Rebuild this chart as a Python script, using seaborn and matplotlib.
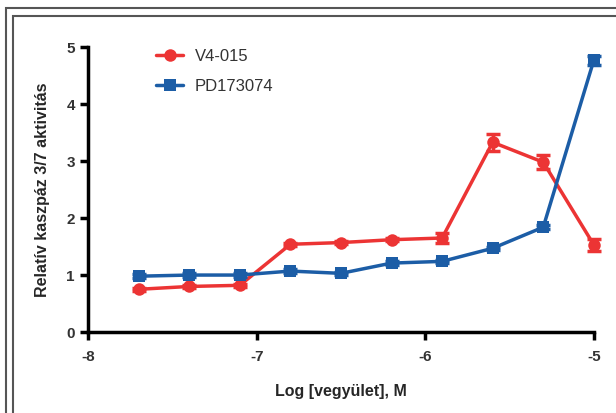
import numpy as np
import pandas as pd
import seaborn as sns
import matplotlib.pyplot as plt
from matplotlib.patches import Rectangle

log_conc = [-7.7, -7.4, -7.1, -6.8, -6.5, -6.2, -5.9, -5.6, -5.3, -5.0]
v4_mean = [0.75, 0.80, 0.82, 1.54, 1.57, 1.62, 1.65, 3.33, 2.98, 1.53]
v4_err = [0.03, 0.03, 0.03, 0.03, 0.03, 0.03, 0.08, 0.15, 0.12, 0.10]
pd_mean = [0.98, 1.00, 1.00, 1.07, 1.03, 1.21, 1.24, 1.47, 1.84, 4.77]
pd_err = [0.03, 0.03, 0.03, 0.03, 0.03, 0.03, 0.03, 0.03, 0.03, 0.08]

red = "#EC3434"
blue = "#1C5DA6"

df = pd.concat([
    pd.DataFrame({"x": log_conc, "y": v4_mean, "err": v4_err, "vegyulet": "V4-015"}),
    pd.DataFrame({"x": log_conc, "y": pd_mean, "err": pd_err, "vegyulet": "PD173074"}),
])

sns.set_style("ticks")
plt.rcParams['font.family'] = ['Liberation Sans', 'DejaVu Sans']

fig = plt.figure(figsize=(6.16, 4.13), dpi=100)
ax = fig.add_axes([0.143, 0.196, 0.821, 0.69])

# frame lines around the picture
fig.patches.append(Rectangle((6 / 616, -0.1), 1.2, (413 - 8) / 413 + 0.1, transform=fig.transFigure,
                             fill=False, edgecolor="#555555", linewidth=1.5))
fig.patches.append(Rectangle((13 / 616, -0.1), 1.2, (413 - 16) / 413 + 0.1, transform=fig.transFigure,
                             fill=False, edgecolor="#555555", linewidth=1.5))

palette = {"V4-015": red, "PD173074": blue}
sns.lineplot(data=df, x="x", y="y", hue="vegyulet", style="vegyulet", palette=palette,
             markers={"V4-015": "o", "PD173074": "s"}, dashes=False, linewidth=2.5,
             markersize=9, markeredgewidth=0, ax=ax, clip_on=False)

for name, g in df.groupby("vegyulet"):
    ax.errorbar(g["x"], g["y"], yerr=g["err"], fmt="none", ecolor=palette[name],
                elinewidth=2.5, capsize=5, capthick=2.5, zorder=3, clip_on=False)

ax.set_xlim(-8, -5)
ax.set_ylim(0, 5)
ax.set_xticks([-8, -7, -6, -5])
ax.set_yticks([0, 1, 2, 3, 4, 5])
ax.set_xticklabels(["-8", "-7", "-6", "-5"])
sns.despine(ax=ax)
for s in ["left", "bottom"]:
    ax.spines[s].set_linewidth(2.5)
    ax.spines[s].set_color("black")
ax.tick_params(axis="both", width=2.5, length=6, labelsize=11, labelcolor="#333333", color="black")
ax.tick_params(axis="x", pad=7)
for lab in ax.get_xticklabels() + ax.get_yticklabels():
    lab.set_fontweight("bold")

ax.set_xlabel("Log [vegyület], M", fontsize=11.5, fontweight="bold", labelpad=14)
ax.set_ylabel("Relatív kaszpáz 3/7 aktivitás", fontsize=11.5, fontweight="bold", labelpad=12)

leg = ax.legend(loc="upper left", bbox_to_anchor=(0.105, 1.045), frameon=False, fontsize=12,
                handlelength=1.6, handletextpad=0.7, labelspacing=0.9)
for t in leg.get_texts():
    t.set_color("#333333")

fig.savefig("out.png", dpi=100)
